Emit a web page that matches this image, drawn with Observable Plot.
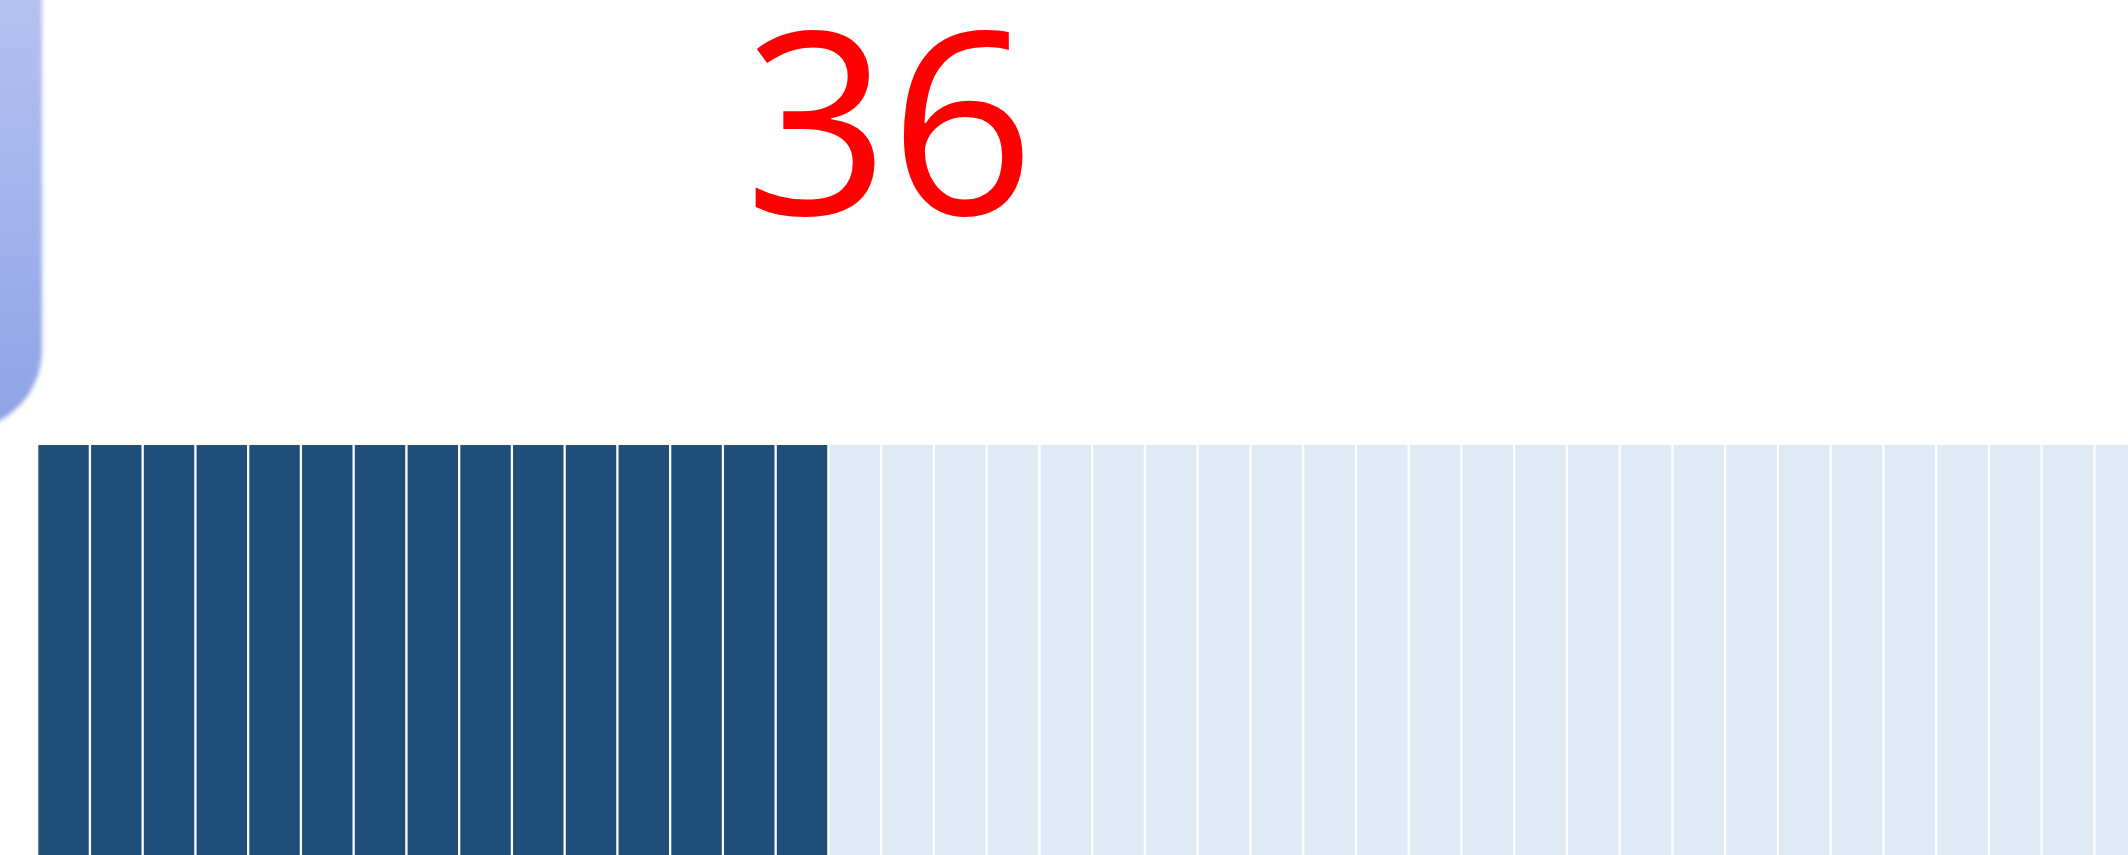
<!DOCTYPE html>
<html>
<head>
<meta charset="utf-8">
<script src="https://cdn.jsdelivr.net/npm/d3@7"></script>
<script src="https://cdn.jsdelivr.net/npm/@observablehq/plot@0.6"></script>
<style>
  html, body { margin: 0; padding: 0; background: #fff; overflow: hidden; }
  #wrap { position: relative; width: 2128px; height: 855px; overflow: hidden; background: #fff; }
  #panel {
    position: absolute; left: -120px; top: -100px; width: 162px; height: 530px;
    border-radius: 80px;
    background: linear-gradient(to bottom, #bcc7f0 0%, #a9b8ee 45%, #8ea3e7 100%);
    filter: blur(2px);
    z-index: 2;
  }
  #chart { position: absolute; left: 0; top: 0; z-index: 1; }
</style>
</head>
<body>
<div id="wrap">
  <div id="panel"></div>
  <div id="chart"></div>
</div>
<script>
// Headline value shown above the cells
const headline = ["36"];

// Cell strip: 1 = filled (dark), 0 = empty (light), left to right as visible
const cellStatus = [
  1,1,1,1,1,1,1,1,1,1,1,1,1,1,1,
  0,0,0,0,0,0,0,0,0,0,0,0,0,0,0,0,0,0,0,0,0,0,0,0,0
];
const cellIndex = cellStatus.map((_, i) => i);

const cells = cellIndex.map(i => ({i, filled: cellStatus[i] === 1 ? "filled" : "empty"}));

const chart = Plot.plot({
  width: 2128,
  height: 855,
  margin: 0,
  style: {background: "transparent"},
  x: {type: "linear", domain: [0, 40], range: [38.3, 38.3 + 40 * 52.75], axis: null},
  y: {type: "linear", domain: [0, 1], range: [445, 905], axis: null},
  color: {domain: ["filled", "empty"], range: ["#1f4e79", "#deeaf6"]},
  marks: [
    Plot.rect(cells, {
      x1: d => d.i,
      x2: d => d.i + 1,
      y1: 0,
      y2: 1,
      fill: "filled",
      insetRight: 2.3
    }),
    Plot.text(headline, {
      text: d => d,
      frameAnchor: "top-left",
      dx: 889,
      dy: 214,
      textAnchor: "middle",
      lineAnchor: "bottom",
      fontSize: 254,
      fontFamily: "Open Sans",
      fill: "#ff0000"
    })
  ]
});
document.getElementById("chart").appendChild(chart);
</script>
</body>
</html>
